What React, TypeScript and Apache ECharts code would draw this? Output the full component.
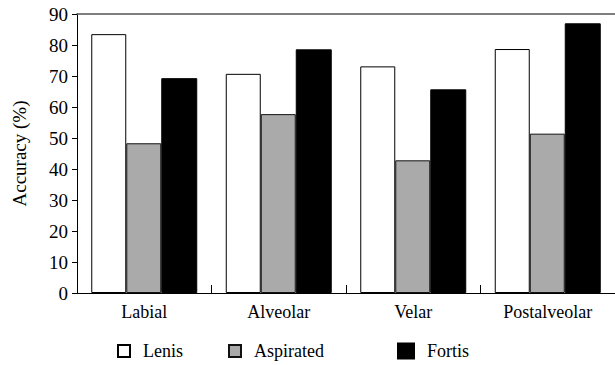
import React, { useEffect, useRef } from "react";
import * as echarts from "echarts";

const categories = ["Labial", "Alveolar", "Velar", "Postalveolar"];
const lenis = [83.5, 70.7, 73.1, 78.7];
const aspirated = [48.3, 57.7, 42.8, 51.4];
const fortis = [69.3, 78.6, 65.7, 87.0];
const yTicks = { min: 0, max: 90, interval: 10 };

const FONT = "'Liberation Serif', 'Times New Roman', serif";

export default function App() {
  const ref = useRef<HTMLDivElement>(null);
  useEffect(() => {
    if (!ref.current) return;
    const chart = echarts.init(ref.current, null, { renderer: "svg" });
    const legendBase = {
      top: 342,
      padding: 0,
      icon: "rect",
      itemHeight: 12,
      itemWidth: 12,
      textStyle: { fontFamily: FONT, fontSize: 18, color: "#000", padding: [0, 0, 0, 8] },
      selectedMode: false,
    };
    chart.setOption({
      animation: false,
      backgroundColor: "#fff",
      textStyle: { fontFamily: FONT },
      grid: { left: 77, top: 14, width: 541, height: 279 },
      legend: [
        { ...legendBase, left: 117, data: ["Lenis"] },
        { ...legendBase, left: 228, data: ["Aspirated"] },
        { ...legendBase, left: 397, itemWidth: 16, itemHeight: 15, data: ["Fortis"] },
      ],
      xAxis: [
        {
          type: "category",
          data: categories,
          axisLine: { lineStyle: { color: "#000", width: 1 } },
          axisTick: { show: true, inside: true, length: 8, lineStyle: { color: "#000" } },
          axisLabel: { fontFamily: FONT, fontSize: 18, color: "#000", margin: 10 },
        },
        {
          type: "category",
          data: categories,
          position: "top",
          axisLine: { show: true, lineStyle: { color: "#555", width: 1.5 } },
          axisTick: { show: false },
          axisLabel: { show: false },
        },
      ],
      yAxis: {
        type: "value",
        min: yTicks.min,
        max: yTicks.max,
        interval: yTicks.interval,
        name: "Accuracy (%)",
        nameLocation: "middle",
        nameRotate: 90,
        nameGap: 48,
        nameTextStyle: { fontFamily: FONT, fontSize: 19, color: "#000" },
        axisLine: { show: true, lineStyle: { color: "#000", width: 1 } },
        axisTick: { show: true, length: 5, lineStyle: { color: "#000" } },
        splitLine: { show: false },
        axisLabel: { fontFamily: FONT, fontSize: 19, color: "#000", margin: 9 },
      },
      series: [
        {
          name: "Lenis",
          type: "bar",
          data: lenis,
          barWidth: 35,
          barGap: "0%",
          itemStyle: { color: "#fff", borderColor: "#000", borderWidth: 1 },
        },
        {
          name: "Aspirated",
          type: "bar",
          data: aspirated,
          barWidth: 35,
          barGap: "0%",
          itemStyle: { color: "#aaaaaa", borderColor: "#111", borderWidth: 1 },
        },
        {
          name: "Fortis",
          type: "bar",
          data: fortis,
          barWidth: 36,
          barGap: "0%",
          itemStyle: { color: "#000", borderColor: "#000", borderWidth: 1 },
        },
      ],
    });
    return () => chart.dispose();
  }, []);
  return (
    <div
      ref={ref}
      style={{ position: "fixed", left: 0, top: 0, width: 615, height: 365, background: "#fff" }}
    />
  );
}
